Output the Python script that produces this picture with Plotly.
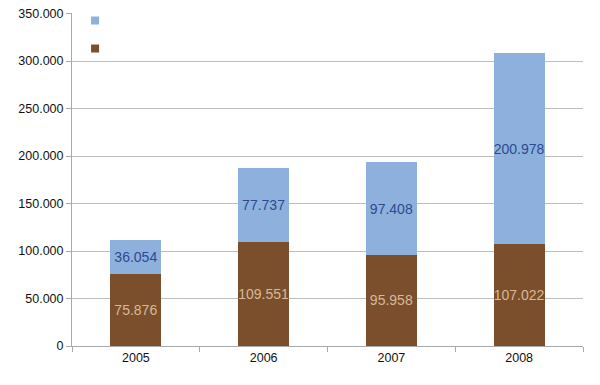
import plotly.graph_objects as go

years = ["2005", "2006", "2007", "2008"]
bottom_vals = [75876, 109551, 95958, 107022]
top_vals = [36054, 77737, 97408, 200978]
y_ticks = [0, 50000, 100000, 150000, 200000, 250000, 300000, 350000]

BROWN = "#7B4F2C"
BLUE = "#8DB1DC"


def fmt(v):
    return f"{v:,}".replace(",", ".")


fig = go.Figure()
fig.add_trace(go.Bar(
    x=years, y=bottom_vals, showlegend=False,
    marker=dict(color=BROWN, line=dict(width=0)),
    text=[fmt(v) for v in bottom_vals],
    textposition="inside", insidetextanchor="middle", textangle=0,
    constraintext="none",
    textfont=dict(color="#D8B898", size=14, family="Liberation Sans, Arial"),
))
fig.add_trace(go.Bar(
    x=years, y=top_vals, showlegend=False,
    marker=dict(color=BLUE, line=dict(width=0)),
    text=[fmt(v) for v in top_vals],
    textposition="inside", insidetextanchor="middle", textangle=0,
    constraintext="none",
    textfont=dict(color="#2C4A92", size=14, family="Liberation Sans, Arial"),
))
# legend entries (no labels in the original)
fig.add_trace(go.Scatter(
    x=[None], y=[None], mode="markers", name=" ", legendgroup="a",
    marker=dict(symbol="square", size=8, color=BLUE),
))
fig.add_trace(go.Scatter(
    x=[None], y=[None], mode="markers", name=" ", legendgroup="b",
    marker=dict(symbol="square", size=8, color=BROWN),
))

fig.update_layout(
    barmode="stack",
    bargap=0.6,
    width=600, height=385,
    margin=dict(l=64, r=25, t=5, b=47, autoexpand=False),
    paper_bgcolor="white", plot_bgcolor="white",
    separators=",.",
    font=dict(family="Liberation Sans, Arial", size=12.5, color="#111"),
    showlegend=True,
    legend=dict(x=0.006, y=1.021, xanchor="left", yanchor="top",
                bgcolor="rgba(0,0,0,0)", tracegroupgap=9,
                font=dict(size=10)),
    uniformtext=dict(mode="show", minsize=14),
)
fig.update_yaxes(
    range=[0, 350600], tickvals=y_ticks,
    ticktext=[fmt(v) for v in y_ticks],
    showgrid=True, gridcolor="#BDBDBD", gridwidth=1,
    showline=True, linecolor="#AAAAAA", ticks="outside", ticklen=5,
    tickcolor="#AAAAAA", zeroline=False, automargin=False,
    ticklabeloverflow="allow",
)
fig.update_xaxes(
    showline=True, linecolor="#AAAAAA", ticks="outside", ticklen=5,
    tickcolor="#AAAAAA", tickson="boundaries", automargin=False,
)

fig.write_html("out.html")
